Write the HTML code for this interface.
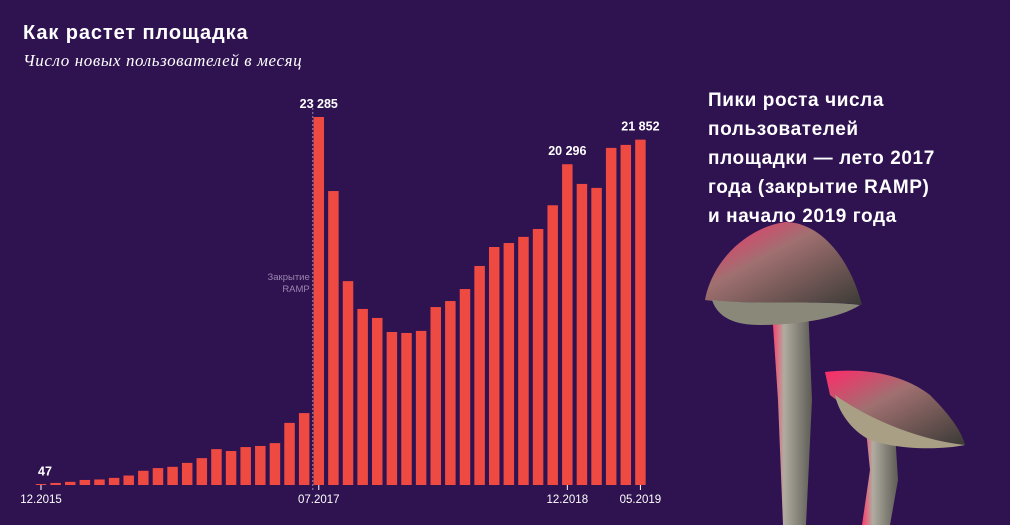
<!DOCTYPE html>
<html><head><meta charset="utf-8">
<style>
html,body{margin:0;padding:0;background:#2f1250;}
body{width:1010px;height:525px;overflow:hidden;position:relative;font-family:"Liberation Sans",sans-serif;}
#title{position:absolute;left:23px;top:22px;color:#fff;font-weight:bold;font-size:20px;letter-spacing:0.9px;}
#subtitle{position:absolute;left:23px;top:51px;color:#fff;font-family:"Liberation Serif",serif;font-style:italic;font-size:17px;letter-spacing:0.6px;}
#note{position:absolute;left:708px;top:86px;color:#fff;font-weight:bold;font-size:19px;line-height:29px;letter-spacing:0.6px;}
svg{position:absolute;left:0;top:0;}
</style></head><body>
<div id="title">Как растет площадка</div>
<div id="subtitle">Число новых пользователей в месяц</div>
<svg id="mush" width="1010" height="525">
  <defs>
    <linearGradient id="cap" x1="0" y1="0" x2="1" y2="1"><stop offset="0" stop-color="#ff2a6a"/><stop offset="0.4" stop-color="#a07070"/><stop offset="1" stop-color="#3a3a36"/></linearGradient>
    <linearGradient id="stem" x1="0" y1="0" x2="1" y2="0"><stop offset="0" stop-color="#ff3a6a"/><stop offset="0.3" stop-color="#b0aca0"/><stop offset="1" stop-color="#5d5c55"/></linearGradient>
  </defs>
  <path d="M772 310 L808 305 L812 400 L806 525 L783 525 L778 400 Z" fill="url(#stem)"/>
  <path d="M705 300 C712 262 745 228 785 222 C820 222 850 258 862 305 C830 300 740 305 705 300 Z" fill="url(#cap)"/>
  <path d="M712 300 C750 305 820 300 860 305 C840 318 800 325 760 325 C735 325 718 318 712 300Z" fill="#8a8878"/>
  <path d="M866 430 L895 432 L898 480 L890 525 L862 525 L870 470 Z" fill="url(#stem)"/>
  <path d="M825 372 C860 368 900 372 930 395 C950 415 962 432 965 445 C920 440 860 420 830 395 Z" fill="url(#cap)"/>
  <path d="M835 395 C870 420 920 440 965 445 C940 450 900 450 870 440 C850 430 838 410 835 395Z" fill="#a89f85"/>
</svg>
<div id="note">Пики роста числа<br>пользователей<br>площадки — лето 2017<br>года (закрытие RAMP)<br>и начало 2019 года</div>
<svg id="chart" width="1010" height="525"></svg>
<script>
const months = ["12.2015","01.2016","02.2016","03.2016","04.2016","05.2016","06.2016","07.2016","08.2016","09.2016","10.2016","11.2016","12.2016","01.2017","02.2017","03.2017","04.2017","05.2017","06.2017","07.2017","08.2017","09.2017","10.2017","11.2017","12.2017","01.2018","02.2018","03.2018","04.2018","05.2018","06.2018","07.2018","08.2018","09.2018","10.2018","11.2018","12.2018","01.2019","02.2019","03.2019","04.2019","05.2019"];
const users = [47,130,200,320,350,450,600,900,1070,1150,1400,1700,2270,2150,2400,2470,2650,3930,4550,23285,18600,12900,11140,10570,9680,9620,9750,11260,11640,12400,13860,15060,15310,15700,16200,17700,20296,19050,18800,21330,21520,21852];
const tickLabels = ["12.2015","07.2017","12.2018","05.2019"];
const valueLabels = ["12.2015","07.2017","12.2018","05.2019"];

const NS="http://www.w3.org/2000/svg";
const svg=document.getElementById('chart');
const x0=41, step=14.62, bw=10.5, base=485, maxV=23285, maxH=368;
const xPos=i=>x0+i*step;
const yScale=v=>v/maxV*maxH;
function fmt(v){return String(v).replace(/\B(?=(\d{3})+(?!\d))/g,' ');}
function mk(tag,attrs){const e=document.createElementNS(NS,tag);for(const k in attrs)e.setAttribute(k,attrs[k]);svg.appendChild(e);return e;}

users.forEach((v,i)=>{
  const h=Math.max(yScale(v),1);
  const r=mk('rect',{x:xPos(i)-bw/2,y:base-h,width:bw,height:h,fill:'#ef4a42'});
  
  
});
const iR=months.indexOf("07.2017");
const ln=mk('line',{x1:xPos(iR)-6,x2:xPos(iR)-6,y1:100,y2:490,stroke:'#9a86b0','stroke-dasharray':'2,2','stroke-width':1});


['Закрытие','RAMP'].forEach((t,k)=>{
  const tx=mk('text',{x:xPos(iR)-9,y:280+k*12,'text-anchor':'end',fill:'#9a86b0','font-size':'9.5','font-family':'Liberation Sans, sans-serif'});
  tx.textContent=t;
  
  
});
tickLabels.forEach(lbl=>{
  const i=months.indexOf(lbl);
  const tk=mk('line',{x1:xPos(i),x2:xPos(i),y1:485,y2:490,stroke:'#fff','stroke-width':1});
  
  
  const t=mk('text',{x:xPos(i),y:503,'text-anchor':'middle',fill:'#fff','font-size':'11.5','font-family':'Liberation Sans, sans-serif'});
  t.textContent=lbl;
  
  
});
valueLabels.forEach(lbl=>{
  const i=months.indexOf(lbl);
  const t=mk('text',{x:xPos(i)+(i===0?4:0),y:base-yScale(users[i])-9,'text-anchor':'middle',fill:'#fff','font-size':'12.5','font-weight':'bold','font-family':'Liberation Sans, sans-serif'});
  t.textContent=fmt(users[i]);
  
  
});
</script>
</body></html>
